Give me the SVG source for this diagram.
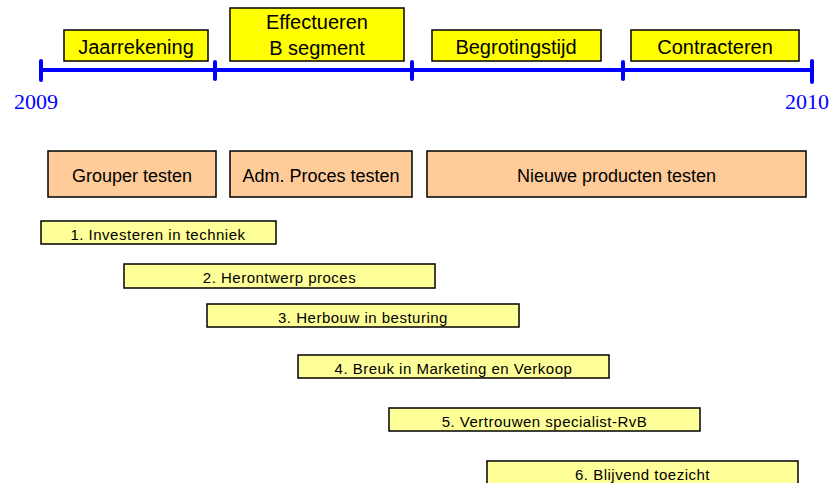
<svg xmlns="http://www.w3.org/2000/svg" width="837" height="483" viewBox="0 0 837 483">
<style>
  .phase rect { fill: #FFFF00; stroke: #000; stroke-width: 1.5; }
  .test rect { fill: #FFCC99; stroke: #000; stroke-width: 1.5; }
  .step rect { fill: #FFFF99; stroke: #000; stroke-width: 1.5; }
  text { font-family: "Liberation Sans", Arial, sans-serif; fill: #000; text-anchor: middle; }
  .phase text { font-size: 20px; }
  .test text { font-size: 18px; }
  .step text { font-size: 15px; letter-spacing: 0.5px; }
  .year { font-family: "Liberation Serif", "Times New Roman", serif; font-size: 22px; fill: #0000FF; text-anchor: start; }
  .axis line { stroke: #0000FF; stroke-width: 4; stroke-linecap: round; }
</style>
<rect width="837" height="483" fill="#fff"/>
<g id="timeline" class="axis">
  <line x1="41" y1="70" x2="812" y2="70"/>
  <line x1="41" y1="61" x2="41" y2="80"/>
  <line x1="215" y1="62" x2="215" y2="79"/>
  <line x1="412" y1="62" x2="412" y2="79"/>
  <line x1="623" y1="62" x2="623" y2="79"/>
  <line x1="812" y1="61" x2="812" y2="82"/>
</g>
<text class="year" x="14" y="109">2009</text>
<text class="year" x="785" y="109">2010</text>
<g id="jaarrekening" class="phase"><rect x="64" y="30" width="144" height="31"/><text x="136" y="54">Jaarrekening</text></g>
<g id="effectueren" class="phase"><rect x="230" y="8" width="174" height="53"/><text x="317" y="29">Effectueren</text><text x="317" y="55">B segment</text></g>
<g id="begrotingstijd" class="phase"><rect x="432" y="30" width="169" height="31"/><text x="516" y="54">Begrotingstijd</text></g>
<g id="contracteren" class="phase"><rect x="631" y="30" width="168" height="31"/><text x="715" y="54">Contracteren</text></g>
<g id="grouper" class="test"><rect x="48" y="151" width="168" height="46"/><text x="132" y="182">Grouper testen</text></g>
<g id="adm" class="test"><rect x="230" y="151" width="182" height="46"/><text x="321" y="182">Adm. Proces testen</text></g>
<g id="nieuwe" class="test"><rect x="427" y="151" width="379" height="46"/><text x="616.5" y="182">Nieuwe producten testen</text></g>
<g id="step1" class="step"><rect x="41" y="221" width="235" height="23"/><text x="158" y="240">1. Investeren in techniek</text></g>
<g id="step2" class="step"><rect x="124" y="264" width="311" height="24"/><text x="279.5" y="283">2. Herontwerp proces</text></g>
<g id="step3" class="step"><rect x="207" y="304" width="312" height="23"/><text x="363" y="323">3. Herbouw in besturing</text></g>
<g id="step4" class="step"><rect x="298" y="355" width="311" height="23"/><text x="453.5" y="374">4. Breuk in Marketing en Verkoop</text></g>
<g id="step5" class="step"><rect x="389" y="408" width="311" height="23"/><text x="544.5" y="427">5. Vertrouwen specialist-RvB</text></g>
<g id="step6" class="step"><rect x="487" y="461" width="311" height="24"/><text x="642.5" y="480">6. Blijvend toezicht</text></g>
</svg>
